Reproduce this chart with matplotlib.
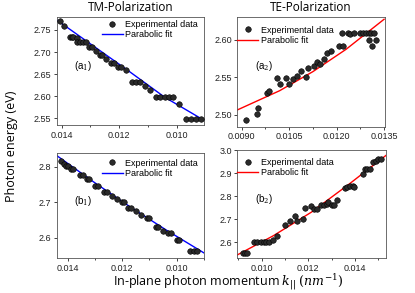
import numpy as np
import matplotlib
matplotlib.use("Agg")
import matplotlib.pyplot as plt
from matplotlib.ticker import MultipleLocator

plt.rcParams['font.family'] = ['Liberation Sans', 'DejaVu Sans']
plt.rcParams['mathtext.fontset'] = 'dejavuserif'

# ---- data ----
# (a1) TM
a1_k = [0.01406, 0.01392, 0.01371, 0.01365, 0.0136, 0.01346, 0.01348, 0.01336, 0.01325, 0.01316,
        0.01304, 0.01296, 0.01282, 0.01267, 0.01258, 0.01244, 0.01227, 0.01218, 0.01203, 0.01194,
        0.01175, 0.01154, 0.01142, 0.01128, 0.01111, 0.01094, 0.01073, 0.01059, 0.01042, 0.01027,
        0.01013, 0.00992, 0.00966, 0.00949, 0.00932, 0.00914]
a1_E = [2.770, 2.760, 2.733, 2.733, 2.733, 2.731, 2.722, 2.722, 2.722, 2.722,
        2.712, 2.712, 2.703, 2.694, 2.694, 2.685, 2.676, 2.676, 2.667, 2.667,
        2.659, 2.633, 2.633, 2.633, 2.623, 2.614, 2.598, 2.598, 2.598, 2.598,
        2.598, 2.582, 2.549, 2.549, 2.549, 2.549]
a1_fit_k = [0.01417, 0.01296, 0.01175, 0.01042, 0.00906]
a1_fit_E = [2.7726, 2.7168, 2.661, 2.598, 2.546]

# (a2) TE
a2_k = [0.00914, 0.00947, 0.00950, 0.00981, 0.00987, 0.0101, 0.01022, 0.01039, 0.0105, 0.01062,
        0.01076, 0.01088, 0.01102, 0.01111, 0.01127, 0.01139, 0.01149, 0.0116, 0.01169, 0.01181,
        0.01209, 0.01221, 0.01216, 0.01235, 0.01242, 0.01254, 0.01275, 0.01282, 0.01292, 0.01302,
        0.0131, 0.01317, 0.01301, 0.01313, 0.01324]
a2_E = [2.4933, 2.5013, 2.509, 2.529, 2.5324, 2.549, 2.541, 2.549, 2.541, 2.548,
        2.552, 2.5587, 2.551, 2.562, 2.5653, 2.570, 2.5676, 2.5747, 2.5822, 2.585,
        2.592, 2.592, 2.6089, 2.6089, 2.608, 2.6089, 2.6089, 2.6089, 2.6089, 2.6089,
        2.6089, 2.6089, 2.600, 2.592, 2.600]
a2_fit_k = [0.00886, 0.0102, 0.01125, 0.0123, 0.0135]
a2_fit_E = [2.5067, 2.5324, 2.5578, 2.5876, 2.6276]

# (b1) TM
b1_k = [0.01425, 0.01413, 0.01406, 0.01397, 0.01388, 0.01379, 0.01354, 0.01344, 0.0133, 0.0132,
        0.01299, 0.01287, 0.01266, 0.01254, 0.01238, 0.0122, 0.01201, 0.01193, 0.01177, 0.01168,
        0.01149, 0.01131, 0.01109, 0.011, 0.01075, 0.01067, 0.01048, 0.0103, 0.01021, 0.00999,
        0.0099, 0.0095, 0.00937, 0.00926]
b1_E = [2.8158, 2.8065, 2.8028, 2.8028, 2.7935, 2.7935, 2.775, 2.775, 2.7656, 2.7656,
        2.745, 2.745, 2.7274, 2.7274, 2.718, 2.7098, 2.70, 2.70, 2.6837, 2.6837,
        2.6744, 2.665, 2.6558, 2.6558, 2.6298, 2.6298, 2.6205, 2.613, 2.613, 2.5953,
        2.5953, 2.5628, 2.5628, 2.5628]
b1_fit_k = [0.0144, 0.01305, 0.01171, 0.01036, 0.00899]
b1_fit_E = [2.8307, 2.7572, 2.6874, 2.6214, 2.5581]

# (b2) TE
b2_k = [0.00919, 0.00929, 0.00936, 0.00967, 0.00981, 0.00996, 0.0101, 0.01021, 0.01033, 0.01047,
        0.01067, 0.011, 0.01121, 0.01143, 0.0115, 0.01179, 0.01186, 0.01214, 0.01224, 0.01236,
        0.01257, 0.01267, 0.01279, 0.01286, 0.013, 0.0131, 0.01324, 0.01357, 0.01367, 0.01379,
        0.0139, 0.01396, 0.01433, 0.01443, 0.01453, 0.01464, 0.01479, 0.01489, 0.015, 0.0151]
b2_E = [2.5529, 2.5529, 2.5529, 2.6029, 2.6029, 2.6029, 2.6029, 2.6029, 2.60, 2.61,
        2.6286, 2.6743, 2.6914, 2.7129, 2.6914, 2.70, 2.7486, 2.7571, 2.7457, 2.7457,
        2.7643, 2.7643, 2.7671, 2.7771, 2.7643, 2.7643, 2.7857, 2.8343, 2.8386, 2.8457,
        2.8457, 2.8386, 2.8957, 2.9171, 2.9171, 2.9171, 2.9486, 2.9529, 2.9629, 2.9629]
b2_fit_k = [0.00896, 0.0105, 0.01214, 0.01379, 0.01533]
b2_fit_E = [2.5457, 2.6286, 2.7314, 2.8557, 2.977]


def draw_panel(ax, k, E, fk, fE, color, label, xlim, ylim, xmaj, xmin, ymaj, xfmt,
               leg_loc, leg_anchor, title=None):
    ax.plot(fk, fE, color=color, lw=1.0, label="Parabolic fit", zorder=2)
    ax.plot(k, E, 'o', ms=4, mfc='#2a2a2a', mec='black', mew=0.4,
            label="Experimental data", zorder=3)
    ax.set_xlim(*xlim)
    ax.set_ylim(*ylim)
    ax.xaxis.set_major_locator(MultipleLocator(xmaj))
    ax.xaxis.set_minor_locator(MultipleLocator(xmin))
    ax.yaxis.set_major_locator(MultipleLocator(ymaj))
    ax.xaxis.set_major_formatter(plt.FormatStrFormatter(xfmt))
    ax.tick_params(labelsize=6.5, length=2.5, width=0.6, pad=1.5, colors='#222222')
    ax.tick_params(which='minor', length=1.5, width=0.5)
    for s in ax.spines.values():
        s.set_linewidth(0.6)
        s.set_color('#555555')
    h, l = ax.get_legend_handles_labels()
    ax.legend(h[::-1], l[::-1], loc=leg_loc, bbox_to_anchor=leg_anchor, fontsize=6.5,
              frameon=False, handlelength=2.3, handletextpad=0.3, borderaxespad=0,
              labelspacing=0.15, borderpad=0)
    ax.text(0.12, 0.52, label, transform=ax.transAxes, fontsize=7)
    if title:
        ax.set_title(title, fontsize=8.5, family='Open Sans', pad=4)


fig = plt.figure(figsize=(4.15, 2.93), dpi=100)
ax1 = fig.add_axes([0.1366, 0.5734, 0.355, 0.3696])
ax2 = fig.add_axes([0.5718, 0.5676, 0.356, 0.3754])
ax3 = fig.add_axes([0.1366, 0.1195, 0.355, 0.3573])
ax4 = fig.add_axes([0.5718, 0.1184, 0.358, 0.369])

draw_panel(ax1, a1_k, a1_E, a1_fit_k, a1_fit_E, 'blue', '(a$_1$)',
           (0.01417, 0.00905), (2.535, 2.780), 0.002, 0.001, 0.05, '%.3f',
           'upper right', (0.96, 0.97), 'TM-Polarization')
draw_panel(ax2, a2_k, a2_E, a2_fit_k, a2_fit_E, 'red', '(a$_2$)',
           (0.00886, 0.01353), (2.4844, 2.631), 0.0015, 0.00075, 0.05, '%.4f',
           'upper left', (0.0, 0.92), 'TE-Polarization')
draw_panel(ax3, b1_k, b1_E, b1_fit_k, b1_fit_E, 'blue', '(b$_1$)',
           (0.0144, 0.00899), (2.544, 2.837), 0.002, 0.001, 0.1, '%.3f',
           'upper right', (0.96, 0.95))
draw_panel(ax4, b2_k, b2_E, b2_fit_k, b2_fit_E, 'red', '(b$_2$)',
           (0.00896, 0.01533), (2.531, 3.0), 0.002, 0.001, 0.1, '%.3f',
           'upper left', (0.0, 0.93))

fig.text(0.028, 0.5, 'Photon energy (eV)', rotation=90, va='center', ha='center',
         fontsize=9, family='Open Sans')
fig.text(0.55, 0.035, r'In-plane photon momentum $k_{||}$ $(nm^{-1})$', ha='center',
         va='center', fontsize=9, family='Open Sans')

fig.savefig('out.png', dpi=100)
